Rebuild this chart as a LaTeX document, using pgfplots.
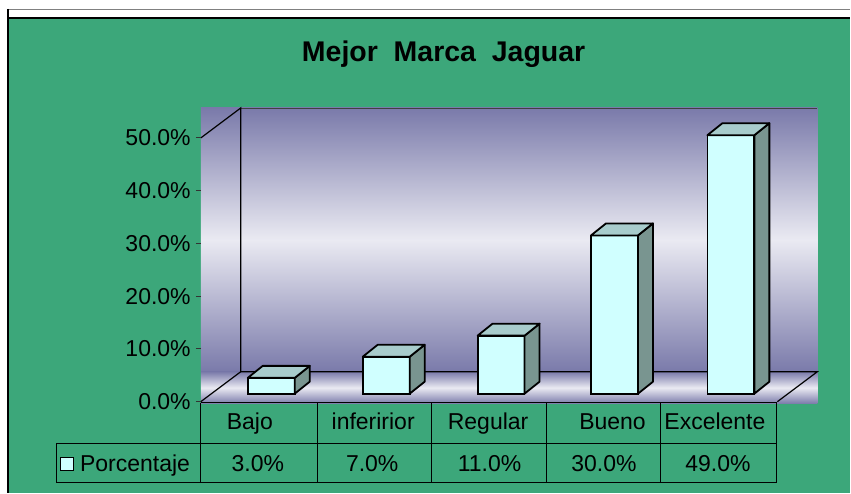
\documentclass[border=0pt]{standalone}
\usepackage{pgfplots}
\pgfplotsset{compat=1.18}
\usepackage{pgfplotstable}
\usepackage{fontspec}
\setmainfont{Liberation Sans}

\definecolor{bggreen}{RGB}{60,167,122}
\definecolor{wallp}{RGB}{122,122,170}
\definecolor{wallw}{RGB}{234,234,242}
\definecolor{barfront}{RGB}{208,255,255}
\definecolor{bartop}{RGB}{168,204,204}
\definecolor{barside}{RGB}{121,149,144}

\newcommand\txt{\fontsize{23}{26}\selectfont}
\pgfdeclareplotmark{blank}{}

% front-face centre (px) and percentage
\pgfplotstableread{
x     v
271.5 3
386.5 7
501.5 11
615   30
731.5 49
}\marca

\begin{document}
\begin{tikzpicture}
% frame, walls, title and data table, in pixel units (y downwards)
\begin{axis}[name=frame, x=1pt, y=1pt, y dir=reverse,
  xmin=0, xmax=851, ymin=0, ymax=493, hide axis, clip=false]
  \fill[white] (0,0) rectangle (851,493);
  \fill[bggreen] (8,18) rectangle (851,493);
  \draw[gray, line width=1pt] (8,9.5) -- (851,9.5);
  \draw[black, line width=1.4pt] (8,18) -- (851,18);
  \draw[black, line width=1.4pt] (8,9) -- (8,493);
  % walls and floor
  \shade[top color=wallp, bottom color=wallp, middle color=wallw] (201,108) rectangle (818,372);
  \shade[top color=wallp, bottom color=wallp, middle color=wallw] (201,372) rectangle (818,404);
  \draw[black!75, line width=0.8pt] (241,108) -- (818,108);
  \draw[line width=1.2pt] (201,138) -- (241,108) -- (241,372) -- (818,372) -- (778,402);
  \draw[line width=1.2pt] (201,402) -- (241,372);
  \coordinate (fp) at (201,402);
  % title
  \node[font=\bfseries\fontsize{28.5}{32}\selectfont, anchor=base] at (444,62) {Mejor\ \ Marca\ \ Jaguar};
  % data table
  \draw[line width=1pt] (201,403) -- (778,403);
  \draw[line width=1pt] (56.5,444) -- (778,444);
  \draw[line width=1pt] (56.5,483) -- (778,483);
  \draw[line width=1pt] (56.5,444) -- (56.5,483);
  \draw[line width=1pt] (201,403) -- (201,483);
  \draw[line width=1pt] (317.5,403) -- (317.5,483);
  \draw[line width=1pt] (432,403) -- (432,483);
  \draw[line width=1pt] (546.5,403) -- (546.5,483);
  \draw[line width=1pt] (661.5,403) -- (661.5,483);
  \draw[line width=1pt] (777.5,403) -- (777.5,483);
  \node[font=\txt, anchor=base] at (250,430) {Bajo};
  \node[font=\txt, anchor=base] at (373.5,430) {inferirior};
  \node[font=\txt, anchor=base] at (488.5,430) {Regular};
  \node[font=\txt, anchor=base] at (613,430) {Bueno};
  \node[font=\txt, anchor=base] at (715.5,430) {Excelente};
  \node[font=\txt, anchor=base] at (258,472) {3.0\%};
  \node[font=\txt, anchor=base] at (372.5,472) {7.0\%};
  \node[font=\txt, anchor=base] at (490,472) {11.0\%};
  \node[font=\txt, anchor=base] at (604.5,472) {30.0\%};
  \node[font=\txt, anchor=base] at (718.5,472) {49.0\%};
  \filldraw[fill=barfront, draw=black, line width=1pt] (61,458) rectangle (74,471);
  \node[font=\txt, anchor=base west, inner sep=0pt] at (80,472) {Porcentaje};
\end{axis}

% value axis and 3-D columns
\begin{axis}[at={(fp)}, anchor=south west, x=1pt, y=5.28pt,
  xmin=201, xmax=778, ymin=-1.515, ymax=48.485, clip=false,
  axis lines*=left, axis line style={draw=none}, xtick=\empty,
  ytick={-1.515,8.485,18.485,28.485,38.485,48.485},
  yticklabels={0.0\%,10.0\%,20.0\%,30.0\%,40.0\%,50.0\%},
  tick align=outside, major tick length=5pt,
  ytick style={draw=black!80, line width=1pt},
  yticklabel style={font=\txt, inner sep=0pt, xshift=-5pt}]
\addplot[ybar, bar width=47pt, fill=barfront, draw=black, line width=1.8pt]
  table[x=x, y=v] {\marca};
\addplot[only marks, scatter, mark=blank,
  visualization depends on={\thisrow{v} \as \rawv},
  scatter/@pre marker code/.code={%
    \pgfmathsetmacro\hh{\rawv*5.28}%
    \filldraw[fill=barside, draw=black, line width=1.8pt, line join=round]
      (23.5pt,0pt) -- ++(15pt,12pt) -- ++(0pt,-\hh pt) -- ++(-15pt,-12pt) -- cycle;
    \filldraw[fill=bartop, draw=black, line width=1.8pt, line join=round]
      (-23.5pt,0pt) -- (23.5pt,0pt) -- ++(15pt,12pt) -- ++(-47pt,0pt) -- cycle;
  },
  scatter/@post marker code/.code={}]
  table[x=x, y=v] {\marca};
\end{axis}
\end{tikzpicture}
\end{document}
